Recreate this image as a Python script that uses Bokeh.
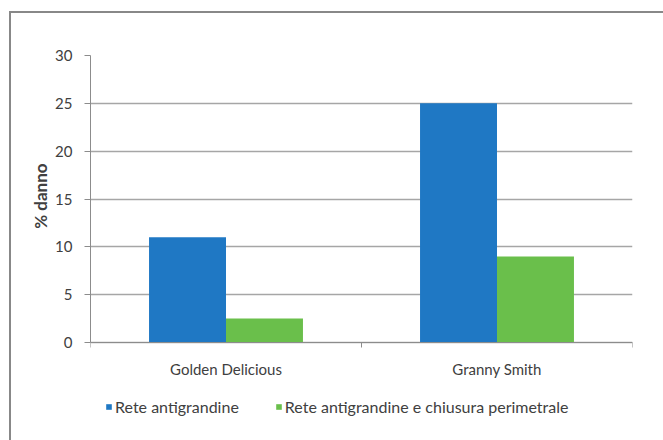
from bokeh.plotting import figure
from bokeh.models import ColumnDataSource, Range1d, FixedTicker, Legend, LegendItem, LinearAxis, Title
from bokeh.core.properties import value
from bokeh.transform import dodge
from bokeh.embed import file_html
from bokeh.resources import INLINE

categories = ["Golden Delicious", "Granny Smith"]
rete = [11, 25]
rete_chiusura = [2.5, 9]
series_names = ["Rete antigrandine", "Rete antigrandine e chiusura perimetrale"]
y_ticks = [0, 5, 10, 15, 20, 25, 30]
y_label = "% danno"

BLUE = "#1f78c4"
GREEN = "#6abf4b"
TEXT = "#404040"
GRID = "#a6a6a6"
AXIS = "#8c8c8c"
FONT = "Lato"
FS = "15px"

# layout: value axis (0..30) occupies the upper 287 px of a 377 px frame,
# the remaining space below holds category labels and legend
FRAME_H = 377
AXIS_H = 287
Y_MAX = 30
y_min = -Y_MAX * (FRAME_H - AXIS_H) / AXIS_H

centers = [i + 0.5 for i in range(len(categories))]
src = ColumnDataSource(dict(x=centers, a=rete, b=rete_chiusura, name=categories,
                            zero=[0] * len(categories)))

p = figure(frame_width=542, frame_height=FRAME_H, output_backend="svg", toolbar_location=None,
           x_range=Range1d(0, len(categories)), y_range=Range1d(y_min, Y_MAX),
           x_axis_location=None,
           min_border_left=79, min_border_right=31, min_border_top=42, min_border_bottom=8,
           margin=(11, 0, 0, 9))
p.styles = {"border-left": "2px solid #888888", "border-top": "2px solid #888888"}
p.outline_line_color = None
p.background_fill_color = "white"
p.border_fill_color = "white"

w = 0.284
r1 = p.vbar(x=dodge("x", -w / 2, range=p.x_range), top="a", width=w, source=src,
            fill_color=BLUE, line_color=None)
r2 = p.vbar(x=dodge("x", w / 2, range=p.x_range), top="b", width=w, source=src,
            fill_color=GREEN, line_color=None)

# x axis (baseline at 0 with category boundary ticks)
xa = LinearAxis(fixed_location=0,
                ticker=FixedTicker(ticks=[], minor_ticks=list(range(len(categories) + 1))),
                major_tick_line_color=None, major_tick_out=0, major_tick_in=0,
                minor_tick_out=5, minor_tick_in=0, minor_tick_line_color=AXIS,
                axis_line_color=AXIS, major_label_text_font_size="0px",
                major_label_standoff=0)
p.add_layout(xa, "below")

# category labels
p.text(x="x", y="zero", text="name", source=src, text_align="center", text_baseline="top",
       y_offset=17, text_font=value(FONT), text_font_size=FS, text_color=TEXT)

# y axis
ya = p.yaxis[0]
ya.ticker = FixedTicker(ticks=y_ticks)
ya.bounds = (0, Y_MAX)
ya.minor_tick_line_color = None
ya.major_tick_out = 6
ya.major_tick_in = 0
ya.major_tick_line_color = AXIS
ya.axis_line_color = AXIS
ya.major_label_text_font = FONT
ya.major_label_text_font_size = FS
ya.major_label_text_color = TEXT
ya.major_label_standoff = 12

# y axis title, placed beside the 0..30 part of the frame
p.add_layout(Title(text=y_label, align="right", offset=108,
                   text_font=FONT, text_font_style="bold", text_font_size="17px",
                   text_color=TEXT, standoff=3), "left")

p.xgrid.grid_line_color = None
p.ygrid.grid_line_color = GRID
p.ygrid.grid_line_width = 1.5

legend = Legend(items=[LegendItem(label=series_names[0], renderers=[r1]),
                       LegendItem(label=series_names[1], renderers=[r2])],
                orientation="horizontal", location=(15, 16),
                glyph_width=7, glyph_height=7, label_standoff=3, spacing=36,
                padding=0, margin=0, border_line_color=None, background_fill_alpha=0,
                label_text_font=FONT, label_text_font_size="16px", label_text_color=TEXT,
                label_height=16)
p.add_layout(legend)

open("out.html", "w").write(file_html(p, INLINE))
